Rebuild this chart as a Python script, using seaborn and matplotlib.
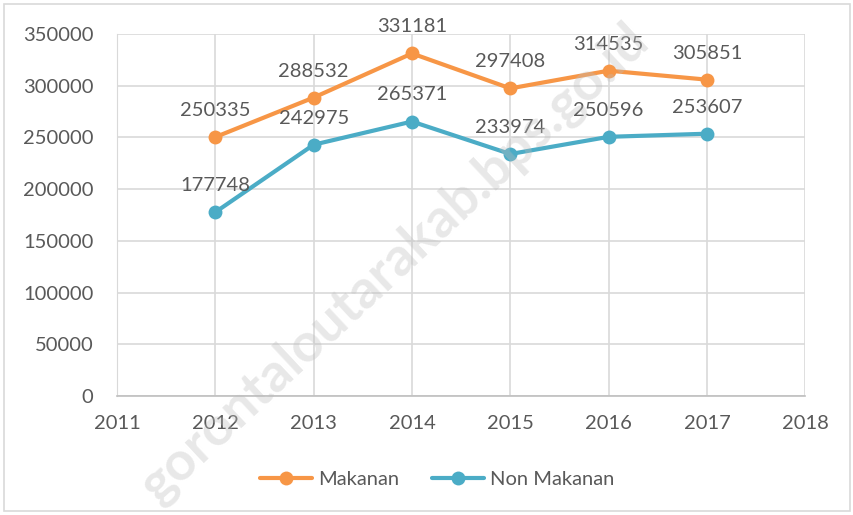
import matplotlib
matplotlib.use("Agg")
import matplotlib.pyplot as plt
import seaborn as sns
import pandas as pd

years = [2012, 2013, 2014, 2015, 2016, 2017]
makanan = [250335, 288532, 331181, 297408, 314535, 305851]
non_makanan = [177748, 242975, 265371, 233974, 250596, 253607]
series_names = ["Makanan", "Non Makanan"]
colors = ["#F79646", "#4BACC6"]

df = pd.DataFrame({
    "Tahun": years * 2,
    "Nilai": makanan + non_makanan,
    "Seri": [series_names[0]] * len(years) + [series_names[1]] * len(years),
})

sns.set_style("white")
plt.rcParams["font.family"] = ["Lato", "DejaVu Sans"]
text_color = "#595959"

fig = plt.figure(figsize=(8.54, 5.15), dpi=100)
ax = fig.add_axes([0.137, 0.231, 0.806, 0.703])

sns.lineplot(data=df, x="Tahun", y="Nilai", hue="Seri", palette=colors,
             marker="o", markersize=10, markeredgewidth=0, linewidth=3,
             ax=ax, legend=True)

for vals in (makanan, non_makanan):
    for x, v in zip(years, vals):
        ax.annotate(f"{v}", (x, v), xytext=(0, 13), textcoords="offset points",
                    ha="center", va="bottom", fontsize=14.5, color=text_color)

ax.set_xlim(2011, 2018)
ax.set_ylim(0, 350000)
ax.set_xticks(range(2011, 2019))
ax.set_yticks(range(0, 350001, 50000))
ax.grid(True, color="#D9D9D9", linewidth=1.2)
ax.set_axisbelow(True)
ax.set_xlabel("")
ax.set_ylabel("")
ax.tick_params(axis="y", labelsize=14.5, colors=text_color, length=0, pad=17)
ax.tick_params(axis="x", labelsize=14.5, colors=text_color, length=0, pad=14)
for s in ["top", "right"]:
    ax.spines[s].set_visible(False)
ax.spines["left"].set_color("#D9D9D9")
ax.spines["bottom"].set_color("#BFBFBF")
ax.spines["bottom"].set_linewidth(1.2)

handles, labels = ax.get_legend_handles_labels()
leg = ax.legend(handles, labels, loc="center", bbox_to_anchor=(0.465, -0.23),
                ncol=2, frameon=False, fontsize=14.5, handlelength=2.6,
                columnspacing=1.6, handletextpad=0.3)
for t in leg.get_texts():
    t.set_color(text_color)

# watermark
fig.text(0.462, 0.49, "gorontaloutarakab.bps.go.id", rotation=43, fontsize=39,
         color="#BDBDBD", alpha=0.35, ha="center", va="center", fontweight="bold",
         zorder=10)

# outer border
fig.patches.append(plt.Rectangle((0.005, 0.008), 0.99, 0.985, transform=fig.transFigure,
                                 fill=False, edgecolor="#D9D9D9", linewidth=1.2))

fig.savefig("out.png", dpi=100)
